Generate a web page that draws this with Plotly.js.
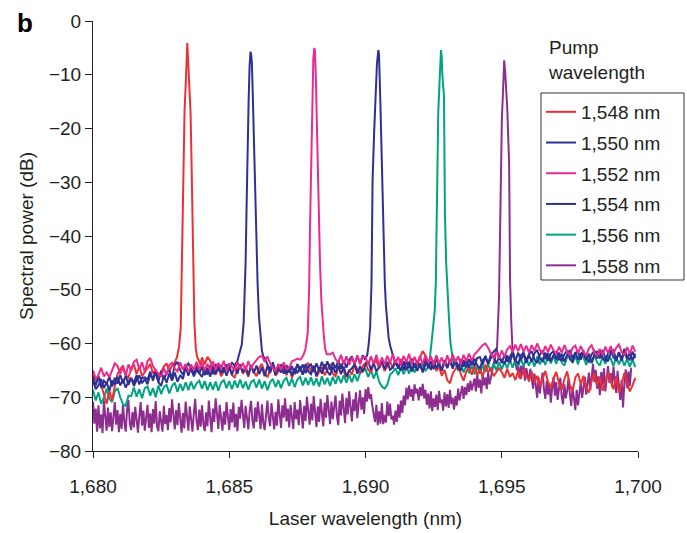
<!DOCTYPE html>
<html><head><meta charset="utf-8">
<script src="https://cdn.plot.ly/plotly-3.0.1.min.js"></script>
<style>html,body{margin:0;padding:0;background:#fff}</style>
</head><body><div id="chart" style="width:687px;height:533px"></div>
<script>
// Wavelength sampling: baselines every 0.1 nm (purple every 0.05 nm) from 1680 nm
const gridStart = 1680;
const coarseStep = 0.1;
const fineStep = 0.05;

const legendLabels = ['1,548 nm', '1,550 nm', '1,552 nm', '1,554 nm', '1,556 nm', '1,558 nm'];
const peakCenters = [1683.46, 1685.78, 1688.12, 1690.47, 1692.77, 1695.09];

// Baseline spectra (dB), one row per nm
const base1548 = [
 -65.2,-66.8,-66.1,-67.9,-69.9,-71.2,-68.8,-70.6,-67.9,-65.7,
 -64.8,-64.1,-65.9,-66.4,-64.6,-63.9,-65.7,-64.2,-66.1,-65.3,
 -64.6,-63.8,-65.6,-64.9,-66.2,-65.1,-64.3,-63.7,-65.2,-64.1,
 -63.6,-62.9,-63,-63,-63,-63,-63,-63,-63,-63.2,
 -62.6,-63.9,-62.5,-63.2,-64.9,-65.8,-64.3,-66.1,-65.2,-64.4,
 -63.8,-65.9,-66.3,-64.7,-63.9,-65.6,-64.8,-66.2,-64.1,-65.3,
 -66.1,-64.5,-63.8,-65.4,-66.3,-64.9,-64.1,-66,-65.2,-63.9,
 -64.6,-65.9,-64.4,-66.4,-65.1,-63.9,-64.7,-65.8,-64.2,-63.6,
 -65.4,-64.1,-66.2,-65.3,-64.4,-65.9,-64.7,-63.8,-65.6,-66.1,
 -64.6,-63.8,-65.2,-66.3,-64.9,-65.8,-63.9,-64.6,-65.5,-64.2,
 -63.6,-64.9,-65.3,-63.8,-63.2,-64.6,-63.5,-65.1,-64.2,-63.3,
 -64.7,-63.1,-64.4,-62.9,-63.8,-64.9,-63.6,-62.8,-64.3,-63.9,
 -62.6,-61.4,-62.2,-63.8,-64.6,-63.2,-65.1,-64.3,-66,-64.9,
 -66.8,-67.4,-65.6,-64.8,-63.9,-65.7,-66.9,-65.2,-64.4,-65.8,
 -64.2,-65.9,-64.6,-66.3,-63.9,-65.4,-64.5,-66.1,-65.3,-64.6,
 -65.3,-66.4,-64.7,-66.2,-65.5,-66.8,-65.1,-66.6,-64.8,-66.1,
 -66.9,-65.2,-67.3,-66,-68,-66.4,-65.1,-67.2,-68.3,-66.5,
 -65.3,-67.4,-68.6,-66.6,-65.2,-67.8,-68.9,-66.3,-65.6,-67.6,
 -66,-68.3,-69.1,-66.9,-65.5,-67.9,-66.2,-68.8,-67.3,-65.4,
 -66.9,-68.5,-66.1,-69.2,-67.5,-65.5,-67.3,-68.9,-67.8,-66.4];
const base1550 = [
 -66.9,-68.5,-67.8,-66.6,-68.3,-67.2,-68.8,-66.9,-67.6,-66.2,
 -67.8,-66.7,-68.2,-67.1,-66.4,-67.9,-66.8,-65.9,-67.4,-66.6,
 -67.6,-65.8,-66.4,-65.3,-67.2,-67.9,-66,-67.3,-65.6,-66.9,
 -65.4,-67.1,-65.9,-66.6,-64.4,-63.7,-64.8,-66.1,-64.9,-65.6,
 -66.2,-64.6,-65.8,-64.1,-65.7,-63.8,-65.1,-64,-65.4,-63.9,
 -64.6,-63.6,-64.1,-63,-63,-63,-63,-63,-63,-63,
 -63,-63,-63,-62.7,-63.9,-64.8,-63.5,-65.3,-64.6,-65.4,
 -63.9,-65.6,-64.3,-65.9,-64.8,-65.5,-64.2,-65.8,-63.8,-65.2,
 -65.7,-64.2,-66,-64.5,-65.6,-63.9,-65.2,-65.9,-64.3,-65.5,
 -64.1,-65.7,-64.3,-66.1,-65.1,-64.6,-63.9,-65.6,-64.2,-65.3,
 -63.9,-63.3,-64.9,-63.6,-65.2,-64.4,-63.2,-64.8,-63.4,-64.9,
 -64.4,-63.1,-64.7,-63.4,-64.9,-63.3,-64.6,-62.9,-64.5,-63.2,
 -64.2,-65,-62.9,-64.6,-63.3,-64.8,-62.8,-64.1,-64.9,-63.1,
 -64.5,-63.2,-64.7,-62.9,-64.3,-65,-63.1,-64.4,-62.9,-64,
 -62.8,-64.1,-64.6,-63.1,-62.5,-63.9,-62.7,-62.3,-63.8,-62.5,
 -63.6,-62.1,-63.4,-62.4,-61.5,-63.1,-63.8,-62.2,-61.7,-63.2,
 -62,-61.4,-63,-63.6,-62.1,-61.3,-62.9,-61.8,-63.3,-62.2,
 -61.5,-63.1,-61.9,-63.4,-62.1,-61.2,-62.8,-61.6,-63,-61.9,
 -61.4,-62.9,-63.4,-62,-61.4,-62.8,-61.1,-62.7,-63.2,-61.8,
 -61.3,-62.6,-63.1,-61.6,-62.9,-61,-62.5,-63,-61.5,-62.7];
const base1552 = [
 -65,-66.6,-65.9,-64.5,-66.1,-65.4,-66.3,-64.8,-63.7,-64.2,
 -65.6,-64.4,-66,-63.9,-65.1,-63.4,-63,-64.8,-63.5,-65.3,
 -63.3,-62.7,-64.2,-65,-65.7,-66.2,-64.6,-65.9,-64,-63.6,
 -64.7,-65.2,-63.5,-64.9,-63.8,-65.3,-63.9,-64.9,-63.4,-64.8,
 -63.5,-65,-63.8,-65.1,-63.3,-64.9,-63.6,-64.7,-63.2,-65.1,
 -63.8,-64.3,-65,-63.4,-64.8,-63.6,-65,-63.3,-64.7,-63.7,
 -63.1,-62.5,-62.3,-63.4,-62.4,-63.7,-64.6,-65.1,-63.8,-64.9,
 -63.5,-64.8,-64.5,-63.3,-63.1,-62.8,-63,-63,-63,-63,
 -63,-63,-63,-63,-63,-63,-63,-62,-61.7,-62.9,
 -63.5,-62.1,-63.8,-62.4,-64,-62.6,-63.7,-62.2,-63.9,-62.5,
 -62.5,-64,-62.4,-63.8,-62.1,-64.2,-62.6,-63.9,-62.3,-63.6,
 -62,-63.7,-62.5,-64.1,-62.3,-63.5,-61.9,-63.9,-62.5,-63.8,
 -62.3,-63.9,-62.1,-63.6,-62.4,-64,-62.2,-63.7,-62.6,-64.1,
 -62.2,-63.8,-62,-63.5,-62.4,-63.9,-62.1,-63.3,-61.9,-63.2,
 -62,-61.5,-60.9,-60.3,-60,-60.8,-61.9,-62.7,-61.5,-62.8,
 -61.3,-62.5,-61.1,-60.5,-61.6,-60.2,-61.4,-60.1,-61.5,-60.4,
 -61.7,-60.3,-61.4,-60,-61.2,-61.9,-60.5,-61.6,-60.2,-61.3,
 -62,-60.6,-61.7,-60.3,-61.5,-62.2,-60.8,-60.4,-61.8,-60.5,
 -61.6,-62.2,-60.9,-60.3,-61.7,-62.3,-61,-62.1,-60.6,-61.8,
 -60.5,-61.9,-60.8,-60.2,-61.6,-62.2,-60.7,-61.9,-60.4,-61.5];
const base1554 = [
 -66,-67.8,-66.2,-68.2,-66.9,-67.5,-66.1,-68,-66.4,-67.5,
 -65.8,-67.4,-66,-67.7,-66.5,-67.3,-65.9,-67.6,-66.4,-66.3,
 -66.7,-65.2,-66.9,-65.4,-67.1,-65.1,-66.6,-65.5,-64.9,-66.5,
 -64,-63.4,-65,-65.8,-64.4,-66,-64.5,-65.7,-64.1,-65.6,
 -64.3,-65.9,-64.5,-66.2,-64.2,-65.7,-64,-65.5,-64.4,-66,
 -64.5,-65.8,-64.2,-65.6,-63.9,-65.4,-64.3,-65.9,-64,-65.5,
 -64.1,-65.7,-64.4,-66.1,-64.2,-65.5,-63.9,-65.8,-64.5,-64.1,
 -65.6,-64,-65.4,-64.2,-65.7,-63.8,-65.2,-63.9,-65.5,-64.3,
 -63.9,-65.3,-63.7,-65,-63.4,-64.8,-63.3,-64.9,-63.5,-64.6,
 -63.2,-64.7,-63.1,-64.5,-63,-62.4,-63.9,-62.3,-63.7,-62.2,
 -63,-63,-63,-63,-63,-63,-63,-63,-63,-63,
 -62.1,-63.8,-64.3,-65,-63.3,-64.9,-63.4,-65.2,-63.7,-65.1,
 -63.7,-65.4,-63.9,-63.4,-64.9,-63.2,-64.6,-63.5,-65.1,-63.1,
 -64.6,-63,-64.4,-63.2,-64.8,-62.9,-64.3,-63.1,-64.5,-62.8,
 -64.2,-62.7,-62.5,-64,-62.3,-63.7,-62.1,-61.6,-61,-62.6,
 -63.2,-63.8,-62.2,-63.5,-61.9,-63.3,-61.7,-63.1,-62,-63.6,
 -62.1,-63.4,-61.8,-61.2,-62.8,-63.3,-61.7,-63.2,-61.9,-61.4,
 -63,-61.7,-63.3,-62,-61.3,-62.9,-63.4,-61.8,-61.5,-63,
 -61.6,-63.1,-61.9,-63.5,-62.1,-61.4,-62.8,-61.2,-62.7,-63.3,
 -61.8,-61.3,-63,-61.7,-63.2,-61.5,-62.9,-61.7,-63.1,-61.9];
const base1556 = [
 -68.6,-70.6,-69.1,-71.2,-70.1,-68.4,-70.3,-70.9,-68.9,-68.3,
 -70,-71.3,-71.6,-69.7,-69.8,-68.2,-69.9,-68.5,-70.2,-68.3,
 -68,-69.7,-68.3,-70,-67.8,-69.4,-68.1,-67.7,-69.3,-67.9,
 -67.3,-69,-67.5,-68.8,-67.2,-68.7,-67.1,-68.5,-67.4,-66.9,
 -68.4,-67,-68.7,-67.2,-68.6,-67.1,-68.8,-67.3,-66.8,-68.3,
 -67,-68.5,-66.9,-68.2,-66.7,-68.3,-67.1,-68.6,-67.2,-66.8,
 -68.2,-66.7,-68.4,-67,-68.7,-67.2,-66.6,-68.1,-66.8,-68.3,
 -66.9,-66.4,-67.9,-66.5,-68.1,-66.7,-66.2,-67.8,-66.4,-67.7,
 -66.3,-67.8,-66.5,-68,-66.1,-67.6,-66.4,-67.9,-66.2,-67.5,
 -66,-67.4,-65.9,-67.3,-65.8,-67.2,-65.7,-67,-65.5,-65.1,
 -64.8,-66.2,-64.9,-66.5,-65.2,-67.1,-68,-68.4,-67.7,-65.8,
 -65.3,-64.6,-65.9,-64.4,-65.7,-64.2,-65.6,-64.1,-65.4,-64,
 -64.4,-63.8,-65,-63,-63,-63,-63,-63,-63,-63,
 -63,-63,-63,-63.6,-65.1,-63.8,-65.4,-64,-65.5,-64.2,
 -65.7,-64.3,-65.6,-64.1,-65.3,-63.9,-65.2,-63.7,-65,-63.5,
 -64.8,-63.4,-64.6,-63.1,-64.5,-63,-64.3,-62.8,-64.2,-62.7,
 -64.1,-62.8,-64.3,-62.4,-63.9,-62.6,-64,-62.3,-63.7,-62.2,
 -63.8,-62.1,-63.5,-64.1,-62.5,-61.9,-63.6,-62.3,-63.9,-62,
 -62.6,-64,-62.4,-63.7,-62.1,-63.5,-64.1,-62.5,-63.8,-62.2,
 -62.8,-64.2,-62.5,-63.9,-62.7,-64.1,-62.9,-64.3,-63,-64.4];
const base1558 = [
 -70.8,-74.9,-72.1,-76.4,-71.5,-75.8,-73.2,-76.7,-70.6,-74.3,-76.2,-71.9,-75.5,-72.8,-76.3,-73.6,-70.9,-75.1,-72.4,-76.5,
 -73.1,-75.9,-71.2,-74.6,-76.4,-72.3,-70.5,-74.8,-76.1,-72.7,-75.6,-71.8,-74.2,-76.6,-73.4,-70.9,-75.3,-72.5,-76.2,-73.8,
 -71.4,-75.7,-73,-76.5,-72.2,-74.9,-70.7,-75.4,-76.3,-72.6,-74.1,-76.4,-71.6,-75,-73.3,-76.1,-72,-74.7,-70.4,-73.9,
 -76,-72.4,-75.2,-71.1,-74.5,-76.6,-72.9,-75.8,-70.8,-73.6,-76.2,-71.7,-74.8,-76.4,-73,-70.3,-74.4,-76.1,-72.3,-75.5,
 -71.5,-74.9,-76.3,-72.8,-75.4,-70.6,-73.7,-76.5,-72.1,-74.6,-70.2,-73.5,-75.9,-71.4,-74.2,-76.2,-72.6,-75.1,-70.9,-73.8,
 -76.1,-72.2,-74.7,-71,-75.6,-73.1,-76.3,-71.8,-74,-70.5,-72.9,-75.7,-71.6,-74.5,-76,-72.4,-70.7,-74.3,-75.8,-71.9,
 -74.6,-70.8,-73.4,-75.9,-71.3,-74.8,-76.1,-72.5,-70.6,-73.9,-75.4,-71.1,-74.2,-76,-72.7,-75.3,-70.4,-73.6,-75.7,-71.5,
 -73.8,-70.2,-74.5,-72.1,-75.6,-71.4,-73.7,-75.9,-70.9,-74.1,-72.3,-75.2,-70.5,-73.3,-75.8,-71.6,-74.4,-69.9,-72.8,-75.1,
 -71.2,-74.3,-69.8,-73.1,-75.5,-71.7,-74.6,-70.3,-72.9,-75.4,-71,-73.8,-69.6,-72.4,-75,-70.8,-74.1,-71.9,-69.7,-73.5,
 -75.2,-70.6,-73.4,-69.3,-72.7,-74.8,-70.1,-73.2,-68.9,-71.8,-74.5,-70.4,-72.6,-69.1,-73.9,-71.2,-68.7,-72.3,-70,-73.1,
 -68.5,-70.8,-68.1,-70.3,-69.4,-71.6,-72.9,-74.6,-71.4,-75.2,-72.6,-74.9,-71.1,-75,-73.3,-74.7,-70.8,-73.5,-71.2,-74.1,
 -73.4,-75.1,-72.5,-74.6,-71.3,-73.8,-70.6,-72.9,-69.7,-71.5,-68.2,-70.4,-67.8,-69.9,-68.5,-70.7,-67.6,-69.3,-68.4,-70.6,
 -68.1,-69.8,-67.5,-70.2,-68.6,-71.4,-69.3,-72.1,-68.9,-72.6,-70.2,-71.8,-69.5,-72.4,-68.8,-71.1,-70.4,-72.5,-69.1,-71.7,
 -69.4,-72,-68.6,-71.3,-70.1,-72.3,-69.8,-71.5,-68.4,-70.6,-69.2,-67.9,-70.3,-68.1,-69.6,-67.4,-69,-66.9,-68.7,-67.2,
 -66.5,-68.9,-65.8,-68.2,-66.7,-69.3,-65.9,-67.8,-66.3,-68.5,-65.4,-67.6,-65,-65,-65,-65,-65,-65,-65,-65,
 -65,-65,-65,-65,-65,-65,-65,-65,-65,-65,-65,-65,-64.3,-66.5,-64.1,-65.8,-63.9,-66.9,-64.6,-66.2,
 -67.1,-64.7,-66.8,-68.4,-65.6,-67.9,-70.1,-66.2,-69.3,-67.1,-65.4,-68.6,-70.3,-66.9,-69.5,-67.4,-71,-68.2,-66.3,-69.7,
 -67.2,-70.5,-68.1,-66.4,-69.9,-71.3,-67.6,-70.2,-68.7,-66.5,-69.4,-71.6,-68,-70.8,-72.4,-68.6,-71.5,-69.2,-67.3,-70.1,
 -68.3,-66.2,-69.5,-67.1,-65.4,-68.7,-66.3,-63.8,-67.2,-64.9,-68.4,-66.1,-69.6,-65.3,-67.8,-64.6,-68.9,-66.5,-64.2,-67.3,
 -65.5,-68.1,-64.3,-66.9,-69.2,-65.1,-67.6,-70.5,-66.8,-71.9,-67.4,-64.8,-68.3,-65.2,-67.9,-64.5];

// Laser peaks: offset from peak centre (nm) and level (dB)
const peakOff1548 = [-0.46,-0.38,-0.3,-0.24,-0.21,-0.18,-0.14,-0.1,-0.06,-0.025,0,0.025,0.05,0.085,0.12,0.155,0.19,0.225,0.26,0.31,0.36,0.43,0.48];
const peakVal1548 = [-63.5,-62.6,-60.5,-57,-48.8,-34.6,-24,-16.6,-12,-6.5,-4.1,-6.8,-9.7,-13,-17,-26,-37.6,-48,-56,-60.8,-62.5,-63.2,-64];
const peakOff1550 = [-0.48,-0.4,-0.32,-0.25,-0.18,-0.145,-0.11,-0.07,-0.035,0,0.025,0.05,0.085,0.12,0.155,0.2,0.26,0.31,0.36,0.42,0.48];
const peakVal1550 = [-63.2,-61.5,-60.2,-56,-45,-35,-23.4,-15,-8.5,-5.7,-6.3,-7.8,-14,-21,-29.6,-40,-48.8,-55,-58.5,-61.4,-62.5];
const peakOff1552 = [-0.48,-0.4,-0.32,-0.24,-0.19,-0.155,-0.12,-0.07,-0.035,0,0.025,0.06,0.11,0.155,0.21,0.26,0.3,0.35,0.4,0.46];
const peakVal1552 = [-62.8,-62.2,-61,-58,-50,-38,-27.7,-15.3,-7,-5,-5.5,-11,-23.4,-33,-45,-52,-56,-58.6,-61,-62];
const peakOff1554 = [-0.48,-0.4,-0.35,-0.3,-0.25,-0.21,-0.155,-0.1,-0.05,0,0.025,0.07,0.11,0.145,0.19,0.24,0.28,0.33,0.38,0.44];
const peakVal1554 = [-63,-62,-60,-57,-48.8,-29.6,-21,-14,-8,-5.4,-6.2,-14,-22,-32.7,-42,-49,-53,-57,-59,-60.5];
const peakOff1556 = [-0.48,-0.41,-0.35,-0.3,-0.23,-0.19,-0.145,-0.1,-0.05,0,0.025,0.05,0.11,0.145,0.19,0.24,0.3,0.35,0.41,0.47];
const peakVal1556 = [-64.5,-62.8,-60,-57.5,-54,-48.7,-26.4,-17,-11,-5.4,-6.5,-10,-14,-35.7,-45,-51,-56,-60,-62.5,-64];
const peakOff1558 = [-0.48,-0.4,-0.33,-0.26,-0.19,-0.12,-0.085,-0.05,-0.025,0,0.035,0.07,0.11,0.18,0.215,0.26,0.3,0.35,0.41,0.47];
const peakVal1558 = [-66,-64.2,-62.5,-60.6,-51.3,-26.4,-18,-14,-9,-7.3,-9.5,-13,-16,-26.4,-48.2,-56,-60.6,-62.4,-63.5,-65];

const colors = ['#ec3034', '#2e3192', '#ec2a8e', '#2e3192', '#00a382', '#8e2d90'];

function build(base, step, center, offs, vals) {
  const pts = [];
  base.forEach((v, i) => {
    const x = +(gridStart + i * step).toFixed(3);
    if (Math.abs(x - center) > 0.5) pts.push([x, v]);
  });
  offs.forEach((o, i) => pts.push([+(center + o).toFixed(3), vals[i]]));
  pts.sort((a, b) => a[0] - b[0]);
  return { x: pts.map(p => p[0]), y: pts.map(p => p[1]) };
}

const specs = [
  [base1548, coarseStep, peakOff1548, peakVal1548],
  [base1550, coarseStep, peakOff1550, peakVal1550],
  [base1552, coarseStep, peakOff1552, peakVal1552],
  [base1554, coarseStep, peakOff1554, peakVal1554],
  [base1556, coarseStep, peakOff1556, peakVal1556],
  [base1558, fineStep, peakOff1558, peakVal1558]
];
const drawOrder = [5, 4, 0, 1, 3, 2];
const traces = drawOrder.map(k => {
  const s = specs[k];
  const d = build(s[0], s[1], peakCenters[k], s[2], s[3]);
  return {
    type: 'scatter', mode: 'lines', x: d.x, y: d.y,
    name: legendLabels[k], legendrank: k + 1, legendgroup: 'g' + k,
    line: { color: colors[k], width: 2 }
  };
});

const font = 'Liberation Sans, Arial, Helvetica, sans-serif';
const ink = '#231f20';
const layout = {
  width: 687, height: 533,
  margin: { l: 93, r: 49, t: 21, b: 82 },
  paper_bgcolor: '#fff', plot_bgcolor: '#fff',
  font: { family: font, size: 19, color: ink },
  showlegend: true,
  legend: {
    x: 0.822, y: 0.8326, xanchor: 'left', yanchor: 'top',
    borderwidth: 0, bgcolor: 'rgba(0,0,0,0)',
    font: { family: font, size: 19, color: ink },
    tracegroupgap: 3
  },
  xaxis: {
    range: [1680, 1700], tickvals: [1680, 1685, 1690, 1695, 1700], tickformat: ',d',
    showline: true, linecolor: ink, linewidth: 1, ticks: 'outside', ticklen: 6, tickcolor: ink,
    ticklabelstandoff: 12,
    showgrid: false, zeroline: false, tickfont: { family: font, size: 19, color: ink },
    title: { text: 'Laser wavelength (nm)', font: { family: font, size: 19, color: ink }, standoff: 15 }
  },
  yaxis: {
    range: [-80, 0], dtick: 10, tick0: 0,
    showline: true, linecolor: ink, linewidth: 1, ticks: 'outside', ticklen: 7, tickcolor: ink,
    showgrid: false, zeroline: false, tickfont: { family: font, size: 19, color: ink },
    title: { text: 'Spectral power (dB)', font: { family: font, size: 19, color: ink }, standoff: 10 }
  },
  shapes: [
    { type: 'rect', xref: 'paper', yref: 'paper', x0: 0.822, x1: 1.0844, y0: 0.3977, y1: 0.8326,
      line: { color: '#333', width: 1 }, fillcolor: 'rgba(0,0,0,0)', layer: 'above' }
  ],
  annotations: [
    { text: 'Pump<br>wavelength', xref: 'paper', yref: 'paper', x: 0.831, y: 0.967,
      xanchor: 'left', yanchor: 'top', align: 'left', showarrow: false,
      font: { family: font, size: 19, color: ink } },
    { text: '<b>b</b>', xref: 'paper', yref: 'paper', x: -0.143, y: 1.035,
      xanchor: 'left', yanchor: 'top', showarrow: false,
      font: { family: font, size: 26, color: '#000' } }
  ]
};

Plotly.newPlot('chart', traces, layout, { displayModeBar: false, responsive: false });
</script>
</body></html>
